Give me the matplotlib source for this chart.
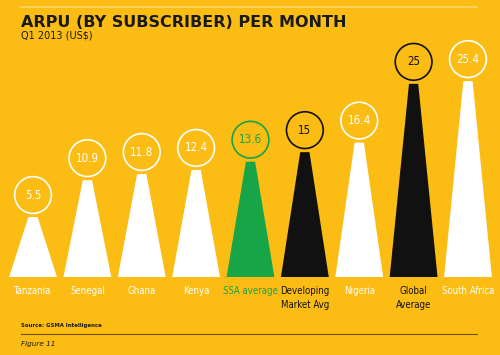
import matplotlib
matplotlib.use('Agg')
import matplotlib.pyplot as plt
from matplotlib import font_manager
from matplotlib.font_manager import FontProperties
from matplotlib.patches import Polygon

# Data
countries = ['Tanzania', 'Senegal', 'Ghana', 'Kenya', 'SSA average',
             'Developing\nMarket Avg', 'Nigeria', 'Global\nAverage', 'South Africa']
arpu = [5.5, 10.9, 11.8, 12.4, 13.6, 15, 16.4, 25, 25.4]
value_labels = ['5.5', '10.9', '11.8', '12.4', '13.6', '15', '16.4', '25', '25.4']

YELLOW = '#FBBC14'
GREEN = '#17A548'
BLACK = '#111111'
WHITE = '#FFFFFF'
colors = [WHITE, WHITE, WHITE, WHITE, GREEN, BLACK, WHITE, BLACK, WHITE]


# look for a condensed / narrow face among the installed fonts
def find_condensed():
    best = None
    for f in font_manager.fontManager.ttflist:
        narrow = (f.stretch in ('condensed', 'semi-condensed', 'extra-condensed', 'ultra-condensed')
                  or 'Narrow' in f.name or 'Condensed' in f.name
                  or 'Condensed' in f.fname or 'Narrow' in f.fname)
        if not narrow or f.style != 'normal':
            continue
        w = f.weight if isinstance(f.weight, int) else 400
        score = abs(w - 450)
        if best is None or score < best[0]:
            best = (score, f.fname)
    if best:
        return FontProperties(fname=best[1])
    return FontProperties(family='DejaVu Sans', stretch='condensed')


cond = find_condensed()

fig = plt.figure(figsize=(5, 3.55), dpi=100)
fig.patch.set_facecolor(YELLOW)
renderer = fig.canvas.get_renderer()


def width_at10(s):
    t = fig.text(0, 0, s, fontproperties=cond, fontsize=10)
    w = t.get_window_extent(renderer).width
    t.remove()
    return w


# size the labels so the longest one fits between the cones
label_size = min(11.5, 10 * 53 / width_at10('South Africa'))
value_size = min(11.5, 10 * 23 / width_at10('25.4'))

# axes: baseline of the cones at y=277px
ax = fig.add_axes([0, 78 / 355, 1, 277 / 355])
ax.set_facecolor(YELLOW)
ax.axis('off')
bottom = -3.28
px_per_unit = 6.83
top = bottom + 277 / px_per_unit
ax.set_xlim(-0.607, 8.589)
ax.set_ylim(bottom, top)

half_base = 0.44
half_top = 0.085
offset = 22 / px_per_unit

for i, (v, c, lab) in enumerate(zip(arpu, colors, value_labels)):
    cone = Polygon([(i - half_base, bottom), (i + half_base, bottom),
                    (i + half_top, v), (i - half_top, v)],
                   closed=True, facecolor=c, edgecolor='none')
    ax.add_patch(cone)
    ax.scatter([i], [v + offset], s=700, facecolor='none', edgecolor=c,
               linewidth=1.2, clip_on=False)
    ax.text(i, v + offset, lab, ha='center', va='center', color=c,
            fontproperties=cond, fontsize=value_size)
    ax.text(i, bottom - 1.3, countries[i], ha='center', va='top', color=c,
            fontproperties=cond, fontsize=label_size, linespacing=1.55)

# header
fig.add_artist(plt.Line2D([21 / 500, 477 / 500], [1 - 7 / 355, 1 - 7 / 355],
                          color='#FCD86A', linewidth=1.2))
fig.text(21 / 500, 1 - 27 / 355, 'ARPU (BY SUBSCRIBER) PER MONTH',
         fontsize=11.5, fontweight='bold', color='#1a1a1a', family='DejaVu Sans')
fig.text(21 / 500, 1 - 39 / 355, 'Q1 2013 (US$)', fontsize=7, color='#1a1a1a')

# footer
fig.text(21 / 500, 1 - 327 / 355, 'Source: GSMA Intelligence', fontsize=3.9,
         fontweight='bold', color='#1a1a1a')
fig.add_artist(plt.Line2D([21 / 500, 477 / 500], [1 - 334 / 355, 1 - 334 / 355],
                          color='#6b5412', linewidth=0.8))
fig.text(21 / 500, 1 - 346 / 355, 'Figure 11', fontsize=5.2, style='italic',
         color='#1a1a1a')

fig.savefig('out.png', dpi=100, facecolor=YELLOW)
